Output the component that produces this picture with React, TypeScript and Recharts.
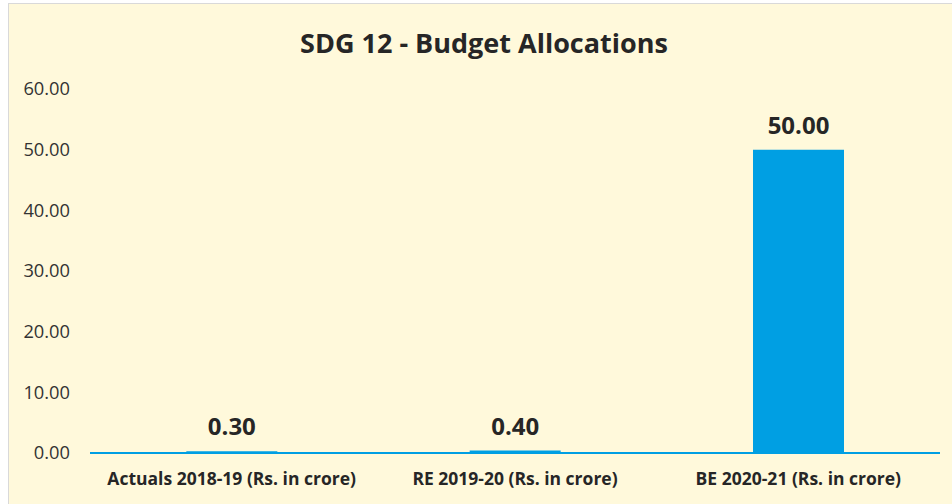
import React from "react";
import { BarChart, Bar, XAxis, YAxis, LabelList } from "recharts";

const categories = [
  "Actuals 2018-19 (Rs. in crore)",
  "RE 2019-20 (Rs. in crore)",
  "BE 2020-21 (Rs. in crore)",
];
const values = [0.3, 0.4, 50.0];
const yTicks = [0, 10, 20, 30, 40, 50, 60];
const title = "SDG 12 - Budget Allocations";

const data = categories.map((c, i) => ({ name: c, value: values[i] }));

const FONT = "'Open Sans', Lato, sans-serif";
const BLUE = "#009FE3";

export default function App() {
  return (
    <div style={{ position: "absolute", left: 0, top: 0, width: 952, height: 504, overflow: "hidden" }}>
      <div
        style={{
          position: "absolute",
          left: 8,
          top: 3,
          width: 960,
          height: 520,
          background: "#FFF9DB",
          borderLeft: "1px solid #D9D9D9",
          borderTop: "1px solid #D9D9D9",
        }}
      />
      <div
        style={{
          position: "absolute",
          left: 0,
          top: 25,
          width: 968,
          textAlign: "center",
          fontFamily: FONT,
          fontWeight: 700,
          fontSize: 27,
          lineHeight: "36px",
          color: "#262626",
        }}
      >
        {title}
      </div>
      <div style={{ position: "absolute", left: 0, top: 0 }}>
        <BarChart
          width={952}
          height={504}
          data={data}
          margin={{ top: 89, right: 12, left: 0, bottom: 0 }}
          barCategoryGap="34%"
        >
          <YAxis
            width={90}
            domain={[0, 60]}
            ticks={yTicks}
            axisLine={false}
            tickLine={false}
            tickSize={0}
            tickMargin={20}
            tickFormatter={(v: number) => v.toFixed(2)}
            tick={{ fontFamily: FONT, fontSize: 18.3, fill: "#333333" }}
          />
          <XAxis
            dataKey="name"
            height={51}
            axisLine={{ stroke: BLUE, strokeWidth: 2 }}
            tickLine={false}
            tickSize={0}
            tickMargin={20}
            interval={0}
            tick={{ fontFamily: FONT, fontSize: 17.5, fontWeight: 700, fill: "#262626" }}
          />
          <Bar dataKey="value" fill={BLUE} isAnimationActive={false}>
            <LabelList
              dataKey="value"
              position="top"
              offset={16}
              formatter={(v: number) => Number(v).toFixed(2)}
              style={{ fontFamily: FONT, fontSize: 24, fontWeight: 700, fill: "#262626" }}
            />
          </Bar>
        </BarChart>
      </div>
    </div>
  );
}
